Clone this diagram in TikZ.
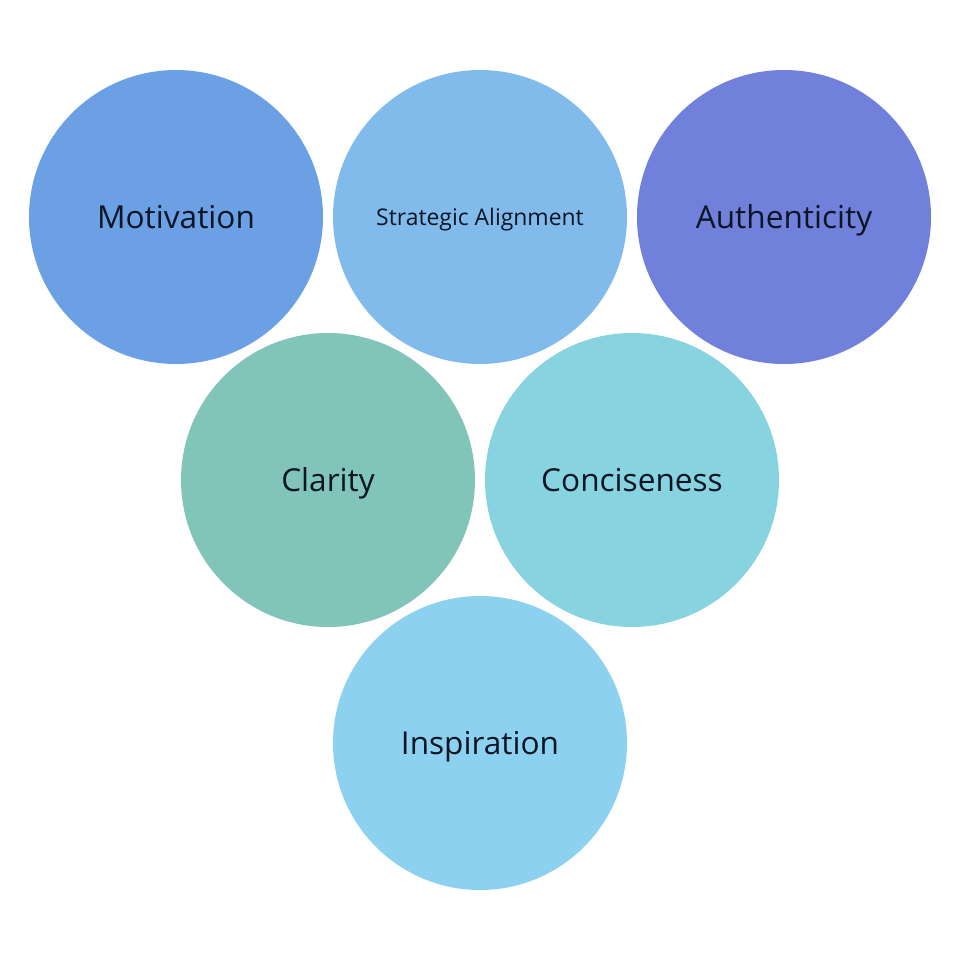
\documentclass[tikz,border=0pt]{standalone}
\usepackage{fontspec}
\setmainfont{Open Sans}
\definecolor{cMot}{HTML}{6CA0E4}
\definecolor{cStr}{HTML}{80BBEB}
\definecolor{cAut}{HTML}{7080DB}
\definecolor{cCla}{HTML}{80C4BA}
\definecolor{cCon}{HTML}{88D3E0}
\definecolor{cIns}{HTML}{8DD1F0}
\definecolor{txt}{HTML}{0B1523}
\begin{document}
\begin{tikzpicture}[x=0.75pt,y=-0.75pt,
  bubble/.style={circle,minimum size=220.5pt,inner sep=0pt,draw=none,text=txt,
    font=\fontsize{23.7}{28}\selectfont,text height=16.5pt,text depth=0pt},
  small/.style={font=\fontsize{17.2}{21}\selectfont,text height=12pt,text depth=0pt}]
\fill[white] (0,0) rectangle (960,960);
\useasboundingbox (0,0) rectangle (960,960);
\node[bubble,fill=cMot] (mot) at (176,217) {Motivation};
\node[bubble,fill=cStr,small] (str) at (480,217) {Strategic Alignment};
\node[bubble,fill=cAut] (aut) at (784,217) {Authenticity};
\node[bubble,fill=cCla] (cla) at (328,480) {Clarity};
\node[bubble,fill=cCon] (con) at (632,480) {Conciseness};
\node[bubble,fill=cIns] (ins) at (480,743) {Inspiration};
\end{tikzpicture}
\end{document}
